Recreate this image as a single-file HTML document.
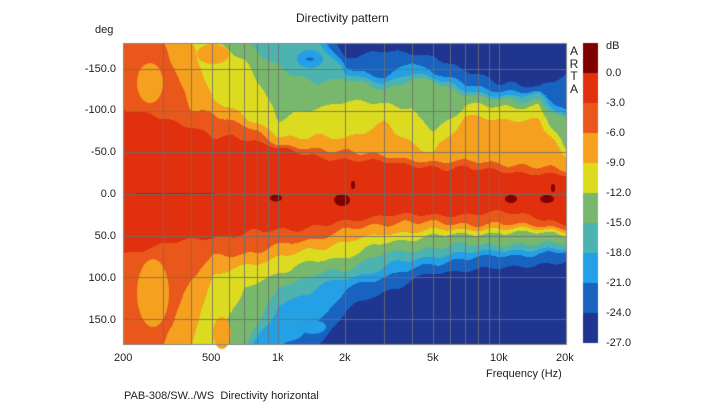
<!DOCTYPE html>
<html><head><meta charset="utf-8"><style>
body{margin:0;background:#fff;width:720px;height:407px;overflow:hidden;position:relative;font-family:"Liberation Sans",Arial,sans-serif;color:#222}
.t{position:absolute;font-size:11px;white-space:nowrap;line-height:1}
canvas{position:absolute;left:0;top:0}
</style></head><body>
<canvas id="c" width="720" height="407"></canvas>
<div class="t" style="left:296px;top:12px;font-size:12px">Directivity pattern</div>
<div class="t" style="left:95px;top:25px">deg</div>
<div class="t" style="left:76px;top:64px;width:40px;text-align:right">-150.0</div>
<div class="t" style="left:76px;top:105px;width:40px;text-align:right">-100.0</div>
<div class="t" style="left:76px;top:147px;width:40px;text-align:right">-50.0</div>
<div class="t" style="left:76px;top:189px;width:40px;text-align:right">0.0</div>
<div class="t" style="left:76px;top:231px;width:40px;text-align:right">50.0</div>
<div class="t" style="left:76px;top:273px;width:40px;text-align:right">100.0</div>
<div class="t" style="left:76px;top:315px;width:40px;text-align:right">150.0</div>
<div class="t" style="left:114px;top:353px">200</div>
<div class="t" style="left:202px;top:353px">500</div>
<div class="t" style="left:272px;top:353px">1k</div>
<div class="t" style="left:339px;top:353px">2k</div>
<div class="t" style="left:427px;top:353px">5k</div>
<div class="t" style="left:490px;top:353px">10k</div>
<div class="t" style="left:556px;top:353px">20k</div>
<div class="t" style="left:486px;top:369px">Frequency (Hz)</div>
<div class="t" style="left:124px;top:391px">PAB-308/SW../WS&nbsp; Directivity horizontal</div>
<div class="t" style="left:569px;top:45px;font-size:12px;line-height:12.5px;width:10px;text-align:center">A<br>R<br>T<br>A</div>
<div class="t" style="left:606px;top:41px">dB</div>
<div class="t" style="left:606px;top:68px">0.0</div>
<div class="t" style="left:606px;top:98px">-3.0</div>
<div class="t" style="left:606px;top:128px">-6.0</div>
<div class="t" style="left:606px;top:158px">-9.0</div>
<div class="t" style="left:606px;top:188px">-12.0</div>
<div class="t" style="left:606px;top:218px">-15.0</div>
<div class="t" style="left:606px;top:248px">-18.0</div>
<div class="t" style="left:606px;top:278px">-21.0</div>
<div class="t" style="left:606px;top:308px">-24.0</div>
<div class="t" style="left:606px;top:338px">-27.0</div>
<script>
var c=document.getElementById('c').getContext('2d');
var cols=['#e0300e','#e9581a','#f6a01f','#dcdb1f','#78b86c','#4db3b0','#23a0e6','#1862c0','#1f3590'];
var X0=124,X1=566,Y0=44,Y1=344,N=999;
var TF=[200,300,400,500,700,1000,1500,2000,3000,4000,5000,7000,10000,15000,20000];
var T=[[100,N,N,N,N,N,N,N],[92,N,N,N,N,N,N,N],[82,100,N,N,N,N,N,N],[70,94,114,N,N,N,N,N],[66,82,94,161,N,N,N,N],[54,58,70,90,153,N,N,N],[46,54,70,102,133,N,N,N],[42,50,66,112,137,145,153,165],[38,46,86,106,125,133,141,172],[34,42,60,102,137,145,157,169],[32,38,48,74,133,137,145,165],[30,38,94,106,118,125,133,150],[28,36,86,106,114,118,125,133],[26,34,90,106,110,118,121,128],[22,28,42,54,86,90,98,145]];
var BF=[200,300,400,500,700,1000,1500,2000,3000,5000,7000,10000,15000,20000];
var B=[[75,N,N,N,N,N,N,N],[59,N,N,N,N,N,N,N],[55,100,N,N,N,N,N,N],[51,75,99,N,N,N,N,N],[47,71,87,115,N,N,N,N],[43,63,75,93,111,135,N,N],[39,53,65,81,95,111,155,N],[35,43,59,75,91,103,115,140],[25,35,47,59,71,87,99,117],[27,35,43,51,63,75,83,95],[25,35,42,49,61,71,79,90],[23,35,41,47,59,67,75,89],[28,38,43,48,59,67,73,83],[35,41,45,49,59,67,71,81]];
[T,B].forEach(function(tab){tab.forEach(function(r){for(var k=0;k<8;k++){if(r[k]==N){r[k]=k==0?185:Math.max(r[k-1],172)+12;}}});});
function bounds(F,tab,lf){
 var LF=F.map(function(f){return Math.log10(f)});
 var i=0;while(i<LF.length-2&&lf>LF[i+1])i++;
 var t=(lf-LF[i])/(LF[i+1]-LF[i]);t=Math.max(0,Math.min(1,t));
 var r=[];for(var k=0;k<8;k++)r.push(tab[i][k]*(1-t)+tab[i+1][k]*t);return r;}
for(var px=X0;px<X1;px++){
 var lf=Math.log10(200)+2*(px-X0)/(X1-X0);
 var bt=bounds(TF,T,lf),bb=bounds(BF,B,lf);
 for(var py=Y0;py<Y1;py++){
  var a=-180+360*(py-Y0+0.5)/(Y1-Y0);
  var aa=Math.abs(a),bd=a<0?bt:bb;
  var n=2*Math.sin(px*0.21+py*0.05)+1.5*Math.sin(px*0.07-a*0.09)+1*Math.sin(py*0.3+px*0.013);
  var idx=0;for(var k=0;k<8;k++)if(aa+n>bd[k])idx=k+1;
  c.fillStyle=cols[idx];c.fillRect(px,py,1,1);
 }}
function el(col,x,y,rx,ry){c.fillStyle=col;c.beginPath();c.ellipse(x,y,rx,ry,0,0,7);c.fill();}
el(cols[2],150,83,13,20);
el(cols[2],213,54,16,10);
el(cols[2],153,293,16,34);
el(cols[2],222,333,9,16);
el(cols[6],310,59,13,9);
el(cols[7],310,59,4,1.5);
el(cols[6],313,327,13,7);
el(cols[1],186,260,6,3);
c.fillStyle='#800000';
[[276,198,6,3.5],[342,200,8,6],[353,185,2,4],[511,199,6,4],[547,199,7,4],[553,188,2,4]].forEach(function(s){c.beginPath();c.ellipse(s[0],s[1],s[2],s[3],0,0,7);c.fill();});
c.fillStyle='rgba(128,0,0,0.6)';c.fillRect(135,193.5,80,1);
c.strokeStyle='rgba(110,110,110,0.85)';c.lineWidth=1;
var fs=[300,400,500,600,700,800,900,1000,2000,3000,4000,5000,6000,7000,8000,9000,10000];
fs.forEach(function(f){var x=Math.round(X0+(Math.log10(f/200)/2)*(X1-X0))+0.5;c.beginPath();c.moveTo(x,Y0);c.lineTo(x,Y1);c.stroke();});
[-150,-100,-50,0,50,100,150].forEach(function(d){var y=Math.round(Y0+(d+180)/360*(Y1-Y0))+0.5;c.beginPath();c.moveTo(X0,y);c.lineTo(X1,y);c.stroke();});
c.strokeStyle='#888';c.strokeRect(X0-0.5,Y0-0.5,X1-X0+1,Y1-Y0+1);
var cb=['#800000'].concat(cols);
for(var i=0;i<10;i++){c.fillStyle=cb[i];c.fillRect(583,43+i*30,15,30);}
</script>
</body></html>
